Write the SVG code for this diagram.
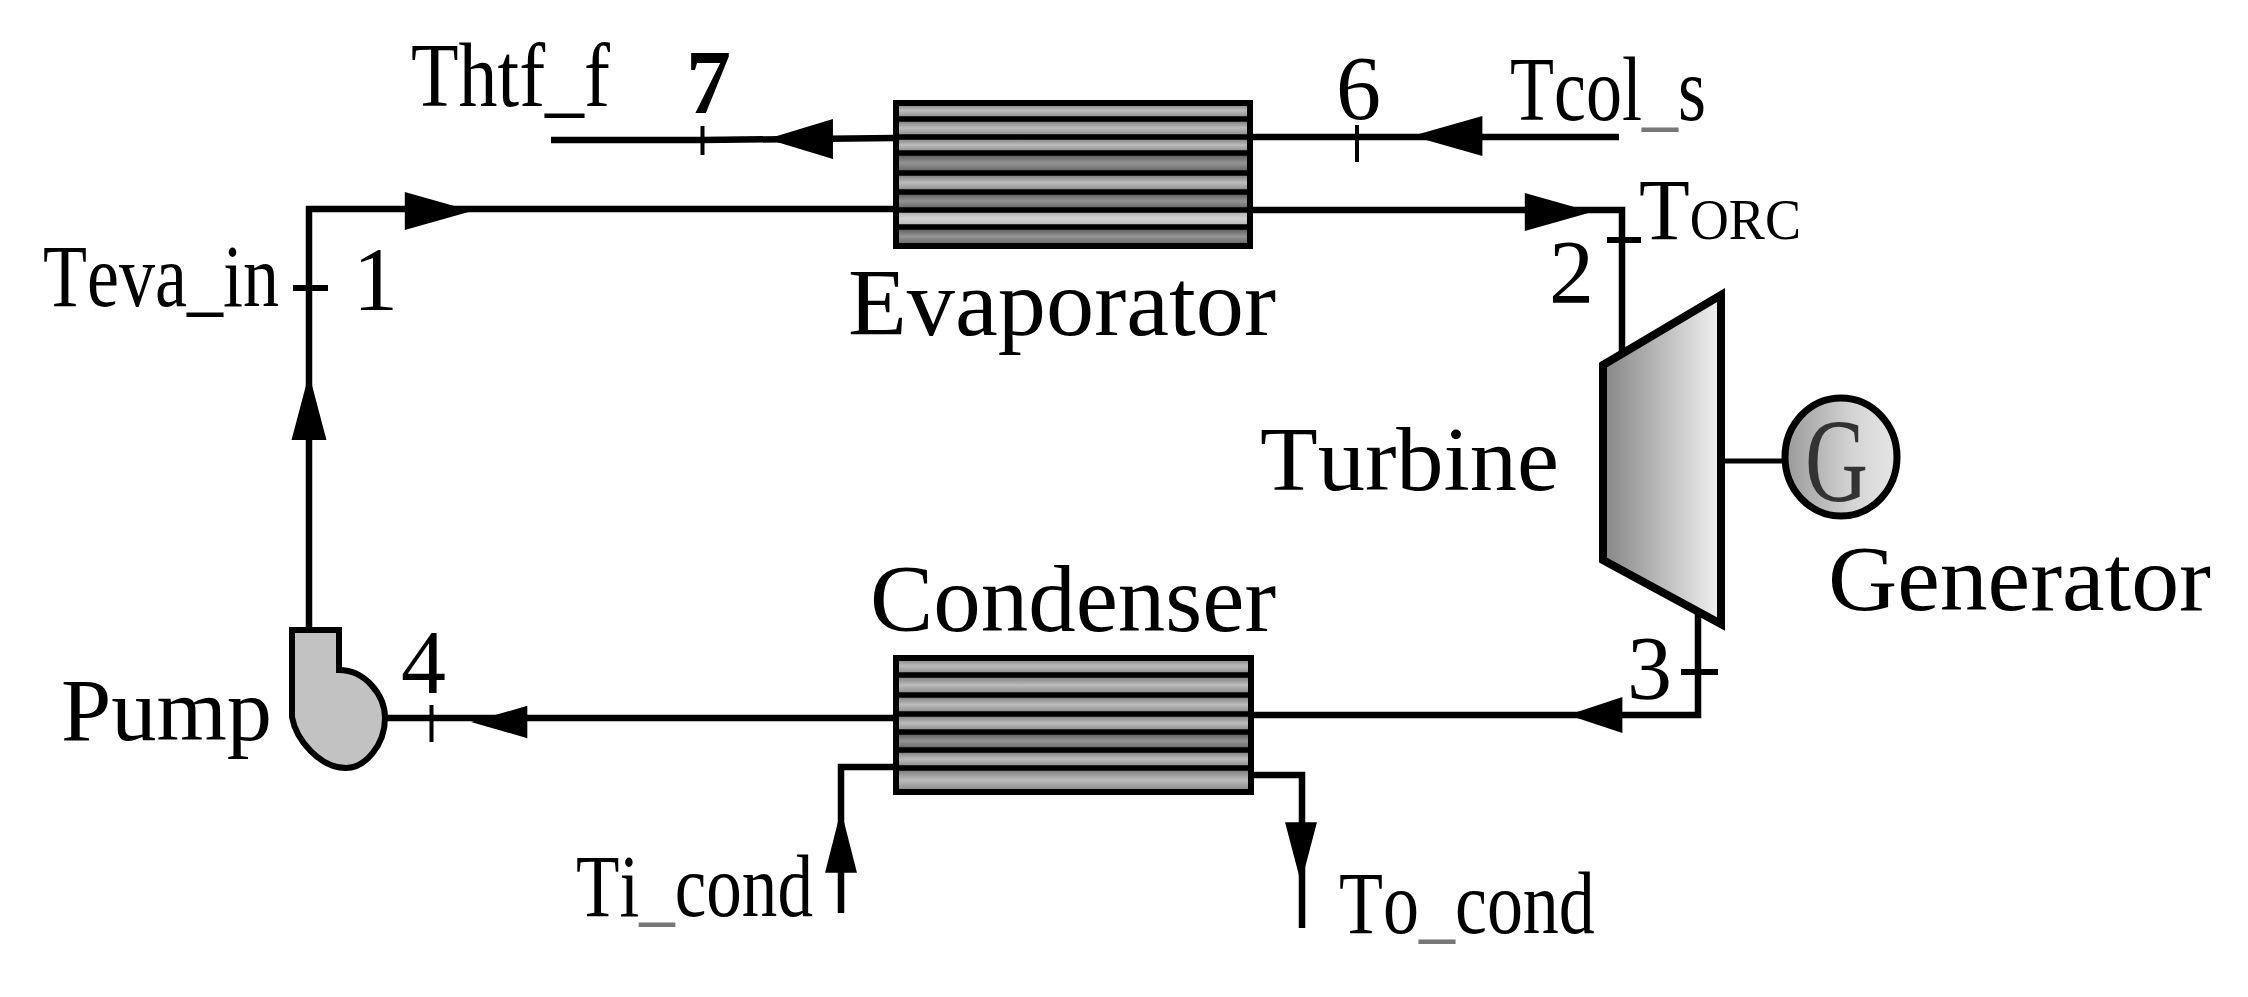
<svg xmlns="http://www.w3.org/2000/svg" width="2248" height="997" viewBox="0 0 2248 997">
<style>
text{font-family:"Liberation Serif","Times New Roman",serif;fill:#000;font-size:90px;font-kerning:none}
.u{fill:#777}
.pipe{fill:none;stroke:#000;stroke-width:6.500}
.thin{stroke-width:5}
.tick{fill:none;stroke:#000;stroke-width:4}
.tickb{fill:none;stroke:#000;stroke-width:6}
.frame{fill:none;stroke:#000;stroke-width:6}
.sep{stroke:#000;stroke-width:5.500}
.m{fill:url(#bm)}.d{fill:url(#bd)}.l{fill:url(#bl)}
</style>
<defs>
<linearGradient id="bm" x1="0" y1="0" x2="0" y2="1"><stop offset="0" stop-color="#6e6e6e"/><stop offset=".5" stop-color="#bcbcbc"/><stop offset="1" stop-color="#808080"/></linearGradient>
<linearGradient id="bd" x1="0" y1="0" x2="0" y2="1"><stop offset="0" stop-color="#505050"/><stop offset=".5" stop-color="#949494"/><stop offset="1" stop-color="#5c5c5c"/></linearGradient>
<linearGradient id="bl" x1="0" y1="0" x2="0" y2="1"><stop offset="0" stop-color="#a4a4a4"/><stop offset=".5" stop-color="#d2d2d2"/><stop offset="1" stop-color="#b0b0b0"/></linearGradient>
<linearGradient id="tg" x1="0" y1="0" x2="1" y2="0"><stop offset="0" stop-color="#858585"/><stop offset="1" stop-color="#f2f2f2"/></linearGradient>
<linearGradient id="gg" x1="0" y1="0" x2="1" y2="0"><stop offset="0" stop-color="#999"/><stop offset=".6" stop-color="#d4d4d4"/><stop offset="1" stop-color="#e6e6e6"/></linearGradient>
<path id="arrow" d="M0,0L-64,-19V19Z" fill="#000"/>
</defs>
<rect width="2248" height="997" fill="#fff"/>
<g id="connectors">
<path class="pipe" d="M551,140H702L895,138"/>
<path class="pipe" d="M1250,137H1619"/>
<path class="pipe" d="M309,632V209H895"/>
<path class="pipe" d="M1250,210L1622,210V360"/>
<path class="pipe" d="M1698,605V715H1252"/>
<path class="pipe" d="M894,718H387"/>
<path class="pipe" d="M894,767H841V913"/>
<path class="pipe" d="M1252,775H1302V928"/>
<path class="pipe thin" d="M1723,461H1784"/>
<use href="#arrow" transform="translate(767,139) rotate(180) scale(1.03,1.05)"/>
<use href="#arrow" transform="translate(1412,136) rotate(180) scale(1.1,1.05)"/>
<use href="#arrow" transform="translate(472,211) scale(1.05,1)"/>
<use href="#arrow" transform="translate(1592,212) scale(1.05,1)"/>
<use href="#arrow" transform="translate(309,374) rotate(-90) scale(1.03,.92)"/>
<use href="#arrow" transform="translate(1568,715) rotate(180) scale(.85,.95)"/>
<use href="#arrow" transform="translate(471,722) rotate(180) scale(.88,.85)"/>
<use href="#arrow" transform="translate(841,810) rotate(-90) scale(.98,.84)"/>
<use href="#arrow" transform="translate(1301,883) rotate(90) scale(.95,.84)"/>
<path class="tick" d="M702.500,126V155M1357,125V162M431.500,705V742"/>
<path class="tickb" d="M293,288H328M1607,240H1641M1681,672H1718"/>
</g>
<g id="evaporator">
<rect class="m" x="896" y="102" width="354" height="17"/>
<rect class="m" x="896" y="119" width="354" height="18"/>
<rect class="m" x="896" y="137" width="354" height="16"/>
<rect class="d" x="896" y="153" width="354" height="20"/>
<rect class="m" x="896" y="173" width="354" height="19"/>
<rect class="d" x="896" y="192" width="354" height="18"/>
<rect class="l" x="896" y="210" width="354" height="17"/>
<rect class="d" x="896" y="227" width="354" height="19"/>
<path class="sep" d="M896,119H1250M896,137H1250M896,153H1250M896,173H1250M896,192H1250M896,210H1250M896,227H1250"/>
<rect class="frame" x="896" y="103" width="354" height="143"/>
<text x="848" y="335" textLength="428" lengthAdjust="spacingAndGlyphs" style="font-size:95px">Evaporator</text>
</g>
<g id="condenser">
<rect class="m" x="895" y="657" width="357" height="18"/>
<rect class="m" x="895" y="675" width="357" height="20"/>
<rect class="m" x="895" y="695" width="357" height="19"/>
<rect class="m" x="895" y="714" width="357" height="18"/>
<rect class="d" x="895" y="732" width="357" height="18"/>
<rect class="m" x="895" y="750" width="357" height="18"/>
<rect class="m" x="895" y="768" width="357" height="24"/>
<path class="sep" d="M895,675H1252M895,695H1252M895,714H1252M895,732H1252M895,750H1252M895,768H1252"/>
<rect class="frame" x="896" y="658" width="355" height="134"/>
<text x="870" y="631" textLength="406" lengthAdjust="spacingAndGlyphs" style="font-size:95px">Condenser</text>
</g>
<g id="turbine">
<path d="M1603,365L1721,295V624L1603,560Z" fill="url(#tg)" stroke="#000" stroke-width="8"/>
<text x="1260" y="490" textLength="299" lengthAdjust="spacingAndGlyphs">Turbine</text>
</g>
<g id="generator">
<ellipse cx="1841" cy="457" rx="56" ry="59" fill="url(#gg)" stroke="#000" stroke-width="7"/>
<text x="1805" y="501" textLength="63" lengthAdjust="spacingAndGlyphs" style="font-size:118px;fill:#333">G</text>
<text x="1828" y="610" textLength="383" lengthAdjust="spacingAndGlyphs" style="font-size:94px">Generator</text>
</g>
<g id="pump">
<path d="M292,630H339V670C365,670 385,695 385,718C385,745 365,768 346,768C320,768 296,740 292,717Z" fill="#c2c2c2" stroke="#000" stroke-width="6"/>
<text x="61" y="740" textLength="211" lengthAdjust="spacingAndGlyphs" style="font-size:88px">Pump</text>
</g>
<g id="labels">
<text x="411" y="106" textLength="199" lengthAdjust="spacingAndGlyphs">Thtf_f</text>
<text transform="translate(1510,120) scale(.8,1)">Tcol<tspan class="u">_</tspan>s</text>
<text x="1639" y="239" textLength="162" lengthAdjust="spacingAndGlyphs" style="font-size:86px">T<tspan style="font-size:56px">ORC</tspan></text>
<text x="43" y="306" textLength="236" lengthAdjust="spacingAndGlyphs" style="font-size:88px">Teva_in</text>
<text transform="translate(576,916) scale(.808,1)" style="font-size:88px">Ti<tspan class="u">_</tspan>cond</text>
<text transform="translate(1339,933) scale(.818,1)" style="font-size:88px">To<tspan class="u">_</tspan>cond</text>
<text x="353" y="310">1</text>
<text x="1549" y="303">2</text>
<text x="1627" y="699">3</text>
<text x="401" y="693">4</text>
<text x="1336" y="119">6</text>
<text x="686" y="113" style="font-weight:bold">7</text>
</g>
</svg>
